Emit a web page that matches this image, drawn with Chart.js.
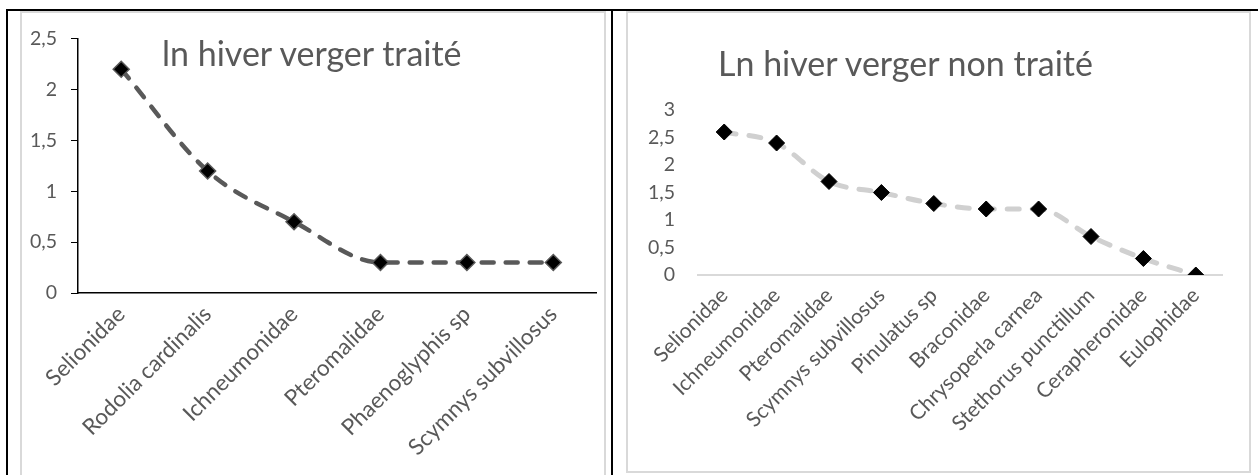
<!DOCTYPE html>
<html lang="fr">
<head>
<meta charset="utf-8">
<title>Ln hiver verger</title>
<script src="https://cdn.jsdelivr.net/npm/chart.js@4/dist/chart.umd.min.js"></script>
<style>
  html, body { margin: 0; padding: 0; background: #fff; }
  body { width: 1258px; height: 475px; position: relative; overflow: hidden; font-family: Lato, "Open Sans", sans-serif; }
  .rule { position: absolute; background: #000; }
  .panel { position: absolute; box-sizing: border-box; border: 2px solid #d9d9d9; }
  .panel canvas { position: absolute; left: 0; top: 0; }
  .title { position: absolute; white-space: nowrap; color: #595959; font-family: Lato, sans-serif; font-size: 34px; line-height: 1.2; }
</style>
</head>
<body>
<!-- table frame around the two charts -->
<div class="rule" style="left:6px; top:9px; width:1252px; height:2px;"></div>
<div class="rule" style="left:6px; top:9px; width:2px; height:466px;"></div>
<div class="rule" style="left:611px; top:9px; width:2px; height:466px;"></div>

<!-- left chart: treated orchard -->
<div class="panel" id="boxTreated" style="left:20px; top:11px; width:586px; height:480px;">
  <canvas id="chartTreated"></canvas>
</div>
<div class="title" style="left:162px; top:33px;">ln hiver verger traité</div>

<!-- right chart: untreated orchard -->
<div class="panel" id="boxUntreated" style="left:626px; top:11px; width:625px; height:462px;">
  <canvas id="chartUntreated"></canvas>
</div>
<div class="title" style="left:718px; top:43px;">Ln hiver verger non traité</div>

<script>
// Winter, treated orchard
const treatedCategories = ['Selionidae', 'Rodolia cardinalis', 'Ichneumonidae', 'Pteromalidae', 'Phaenoglyphis sp', 'Scymnys subvillosus'];
const treatedValues = [2.2, 1.2, 0.7, 0.3, 0.3, 0.3];
const treatedTickValues = [0, 0.5, 1, 1.5, 2, 2.5];
const treatedTickLabels = ['0', '0,5', '1', '1,5', '2', '2,5'];

// Winter, untreated orchard
const untreatedCategories = ['Selionidae', 'Ichneumonidae', 'Pteromalidae', 'Scymnys subvillosus', 'Pinulatus sp', 'Braconidae', 'Chrysoperla carnea', 'Stethorus punctillum', 'Cerapheronidae', 'Eulophidae'];
const untreatedValues = [2.6, 2.4, 1.7, 1.5, 1.3, 1.2, 1.2, 0.7, 0.3, 0];
const untreatedTickValues = [0, 0.5, 1, 1.5, 2, 2.5, 3];
const untreatedTickLabels = ['0', '0,5', '1', '1,5', '2', '2,5', '3'];

const textGrey = '#595959';
const fontFamily = 'Lato, sans-serif';

function tickLabeller(values, labels) {
  return (v) => {
    const i = values.findIndex(t => Math.abs(t - v) < 1e-9);
    return i >= 0 ? labels[i] : '';
  };
}

function fixedSize(prop, px) {
  return (scale) => { scale[prop] = px; };
}

function makeChart(canvasId, w, h, cfg) {
  const canvas = document.getElementById(canvasId);
  canvas.width = w;
  canvas.height = h;
  canvas.style.width = w + 'px';
  canvas.style.height = h + 'px';
  return new Chart(canvas, {
    type: 'line',
    data: {
      labels: cfg.categories,
      datasets: [{
        data: cfg.values,
        borderColor: cfg.lineColor,
        borderWidth: cfg.lineWidth,
        borderDash: cfg.dash,
        borderCapStyle: 'round',
        cubicInterpolationMode: 'monotone',
        fill: false,
        pointStyle: 'rectRot',
        pointRadius: 8,
        pointBorderWidth: cfg.markerBorderWidth,
        pointBackgroundColor: '#000',
        pointBorderColor: cfg.markerBorder
      }]
    },
    options: {
      responsive: false,
      animation: false,
      devicePixelRatio: 1,
      layout: { padding: cfg.padding },
      plugins: { legend: { display: false }, tooltip: { enabled: false }, title: { display: false } },
      scales: {
        x: {
          type: 'category',
          offset: true,
          afterFit: fixedSize('height', cfg.xAxisHeight),
          grid: { display: false, drawTicks: false },
          border: { display: true, color: cfg.xAxisColor, width: cfg.xAxisWidth },
          ticks: {
            autoSkip: false,
            minRotation: 45,
            maxRotation: 45,
            padding: cfg.xLabelPadding,
            color: textGrey,
            font: { family: fontFamily, size: cfg.xFontSize }
          }
        },
        y: {
          min: 0,
          max: cfg.yMax,
          afterFit: fixedSize('width', cfg.yAxisWidth),
          afterBuildTicks: (scale) => { scale.ticks = cfg.tickValues.map(v => ({ value: v })); },
          grid: cfg.yGrid,
          border: cfg.yBorder,
          ticks: {
            padding: cfg.yLabelPadding,
            color: textGrey,
            font: { family: fontFamily, size: cfg.yFontSize },
            callback: tickLabeller(cfg.tickValues, cfg.tickLabels)
          }
        }
      }
    }
  });
}

makeChart('chartTreated', 584, 464, {
  categories: treatedCategories,
  values: treatedValues,
  tickValues: treatedTickValues,
  tickLabels: treatedTickLabels,
  yMax: 2.5,
  lineColor: '#595959',
  lineWidth: 4.5,
  dash: [12, 12],
  markerBorder: '#595959',
  markerBorderWidth: 1.5,
  padding: { top: 14, right: 3, left: 0, bottom: 0 },
  xAxisHeight: 184,
  yAxisWidth: 56,
  xAxisColor: '#000',
  xAxisWidth: 1.5,
  xLabelPadding: 8,
  xFontSize: 22.5,
  yFontSize: 19.5,
  yLabelPadding: 14,
  yGrid: { display: true, drawOnChartArea: false, drawTicks: true, tickLength: 7, color: '#000', lineWidth: 1 },
  yBorder: { display: true, color: '#000', width: 1.5 }
});

makeChart('chartUntreated', 621, 458, {
  categories: untreatedCategories,
  values: untreatedValues,
  tickValues: untreatedTickValues,
  tickLabels: untreatedTickLabels,
  yMax: 3,
  lineColor: '#d0d0d0',
  lineWidth: 5,
  dash: [12, 13],
  markerBorder: '#000',
  markerBorderWidth: 1,
  padding: { top: 97, right: 27, left: 0, bottom: 0 },
  xAxisHeight: 196,
  yAxisWidth: 70,
  xAxisColor: '#d9d9d9',
  xAxisWidth: 2,
  xLabelPadding: 8,
  xFontSize: 21,
  yFontSize: 19.5,
  yLabelPadding: 23,
  yGrid: { display: false, drawTicks: false },
  yBorder: { display: false }
});
</script>
</body>
</html>
